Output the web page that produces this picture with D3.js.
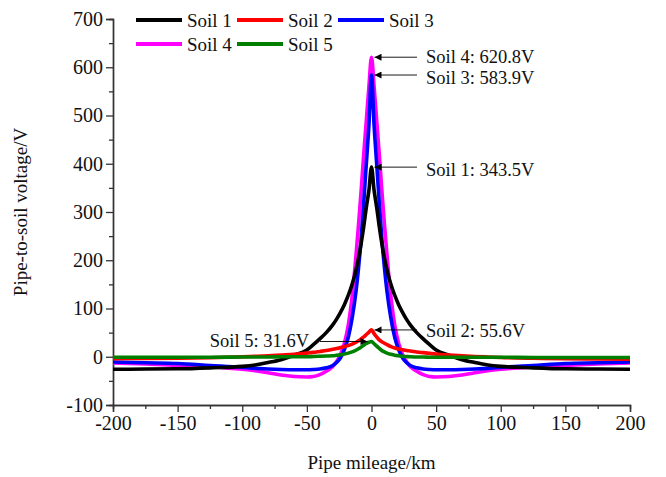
<!DOCTYPE html>
<html>
<head>
<meta charset="utf-8">
<script src="https://cdn.jsdelivr.net/npm/d3@7"></script>
<style>
  body { margin: 0; background: #fff; }
  svg text { font-family: "Liberation Serif", "Times New Roman", serif; fill: #111; }
</style>
</head>
<body>
<div id="main"></div>
<script>
// pipe mileage (km) sample points
var mileage = [-200, -175, -150, -125, -100, -90, -80, -70, -60, -50, -45, -40, -35, -30, -27, -24, -21, -18, -15, -12, -10, -8, -6, -4, -2, 0,
  2, 4, 6, 8, 10, 12, 15, 18, 21, 24, 27, 30, 35, 40, 45, 50, 60, 70, 80, 90, 100, 125, 150, 175, 200];

// pipe-to-soil voltage (V)
var soil1 = [-26, -25.5, -25, -23, -20, -17, -12, -6, 3, 14, 25, 37, 50, 66, 78, 92, 108, 127, 150, 180, 205, 235, 270, 310, 345, 393,
  345, 310, 270, 235, 205, 180, 150, 127, 108, 92, 78, 66, 50, 37, 25, 14, 3, -6, -12, -17, -20, -23, -25, -25.5, -26];
var soil2 = [-4, -3.5, -3, -2, 0, 1, 2, 3.5, 5, 7.5, 9, 11, 13, 15.5, 17, 19, 21, 23, 26, 30, 33, 37, 41, 46, 51, 55.6,
  48, 41, 35, 31, 28, 25, 21, 18, 16, 14.5, 13, 12, 10, 8.5, 7, 5.5, 3.5, 2, 0.5, -0.5, -1.5, -3, -4, -4.5, -5];
var soil3 = [-11, -12.5, -14, -18, -22, -24, -25.5, -26.5, -27, -27, -26.5, -25.5, -23, -18, -12, -2, 15, 40, 80, 135, 185, 245, 320, 400, 480, 583.9,
  480, 400, 320, 245, 185, 135, 80, 40, 15, -2, -12, -18, -23, -25.5, -26.5, -27, -27, -26.5, -25.5, -24, -22, -18, -14, -12.5, -11];
var soil4 = [-13, -15, -18, -21, -26, -29, -33, -38, -41, -42, -41, -37, -30, -20, -10, 5, 28, 65, 125, 210, 275, 345, 420, 490, 560, 620.8,
  560, 490, 420, 345, 275, 210, 125, 65, 28, 5, -10, -20, -30, -37, -41, -42, -41, -38, -33, -29, -26, -21, -18, -15, -13];
var soil5 = [-1, -1, -1, -1, -0.5, -0.5, -0.5, 0, 0, 0, 0.5, 1, 1.5, 2, 3, 4, 5.5, 7.5, 10, 13.5, 16.5, 20, 24, 27.5, 30, 31.6,
  27, 22, 17.5, 13, 10, 7.5, 5, 3, 2, 1, 0.5, 0, -0.5, -0.5, -1, -1, -1, -1, -1, -1, -1, -1.5, -1.5, -1.5, -1.5];

var seriesNames = ["Soil 1", "Soil 2", "Soil 3", "Soil 4", "Soil 5"];
var seriesColors = ["#000000", "#ff0000", "#0000ff", "#ff00ff", "#007f00"];
var seriesValues = [soil1, soil2, soil3, soil4, soil5];
var peakLabels = ["Soil 1: 343.5V", "Soil 2: 55.6V", "Soil 3: 583.9V", "Soil 4: 620.8V", "Soil 5: 31.6V"];

var xTicks = [-200, -150, -100, -50, 0, 50, 100, 150, 200];
var yTicks = [-100, 0, 100, 200, 300, 400, 500, 600, 700];

var margin = { top: 19, right: 36, bottom: 72, left: 113 },
  width = 666 - margin.left - margin.right,
  height = 477 - margin.top - margin.bottom;

var svg = d3.select("#main").append("svg")
  .attr("width", 666)
  .attr("height", 477);

var defs = svg.append("defs");
defs.append("marker")
  .attr("id", "head")
  .attr("viewBox", "0 0 10 10")
  .attr("refX", 10).attr("refY", 5)
  .attr("markerWidth", 10).attr("markerHeight", 7)
  .attr("markerUnits", "userSpaceOnUse")
  .attr("orient", "auto")
  .append("path")
  .attr("d", "M0,0L10,5L0,10Z")
  .attr("fill", "#000");

var g = svg.append("g")
  .attr("transform", "translate(" + margin.left + "," + margin.top + ")");

var x = d3.scaleLinear().domain([-200, 200]).range([0, width]);
var y = d3.scaleLinear().domain([-100, 700]).range([height, 0]);

// plain hyphen for negatives, like the original figure
var fmt = function (d) { return String(d); };

// axes: major ticks labelled, minor ticks in between
var xAxis = g.append("g")
  .attr("transform", "translate(0," + height + ")")
  .call(d3.axisBottom(x).tickValues(d3.range(-175, 200, 50)).tickSize(4).tickFormat(""));
xAxis.call(function (s) {
  s.append("g").call(d3.axisBottom(x).tickValues(xTicks).tickSize(7).tickPadding(4).tickFormat(fmt));
});

var yAxis = g.append("g")
  .call(d3.axisLeft(y).tickValues(d3.range(-50, 700, 100)).tickSize(4).tickFormat(""));
yAxis.call(function (s) {
  s.append("g").call(d3.axisLeft(y).tickValues(yTicks).tickSize(7).tickPadding(3).tickFormat(fmt));
});

g.selectAll(".domain").attr("stroke", "#333").attr("stroke-width", 1.4);
g.selectAll(".tick line").attr("stroke", "#333").attr("stroke-width", 1.3);
g.selectAll(".tick text")
  .style("font-family", "Liberation Serif, serif")
  .style("font-size", "20px")
  .attr("fill", "#111");

// curves
var line = d3.line()
  .x(function (d) { return x(d[0]); })
  .y(function (d) { return y(d[1]); })
  .curve(d3.curveMonotoneX);

var drawOrder = [3, 2, 0, 1, 4];
drawOrder.forEach(function (k) {
  g.append("path")
    .datum(mileage.map(function (m, i) { return [m, seriesValues[k][i]]; }))
    .attr("fill", "none")
    .attr("stroke", seriesColors[k])
    .attr("stroke-width", 3.6)
    .attr("stroke-linejoin", "round")
    .attr("d", line);
});

// peak annotations with arrows
function peakOf(k) {
  var v = seriesValues[k], i = d3.maxIndex(v);
  return [mileage[i], v[i]];
}
var textShift = { 3: -1, 2: 3, 0: 2, 1: 1 };
[3, 2, 0, 1].forEach(function (k) {
  var p = peakOf(k);
  var py = y(p[1]);
  g.append("line")
    .attr("x1", 304).attr("y1", py)
    .attr("x2", x(p[0]) + 3).attr("y2", py)
    .attr("stroke", "#000").attr("stroke-width", 0.9)
    .attr("marker-end", "url(#head)");
  g.append("text")
    .attr("x", 313).attr("y", py + textShift[k])
    .attr("dy", "0.35em")
    .style("font-size", "18.5px")
    .text(peakLabels[k]);
});
(function () {
  var p = peakOf(4), py = y(p[1]);
  g.append("line")
    .attr("x1", 207).attr("y1", py)
    .attr("x2", x(p[0]) - 4).attr("y2", py)
    .attr("stroke", "#000").attr("stroke-width", 0.9)
    .attr("marker-end", "url(#head)");
  g.append("text")
    .attr("x", 196).attr("y", py - 1)
    .attr("dy", "0.35em")
    .attr("text-anchor", "end")
    .style("font-size", "18.5px")
    .text(peakLabels[4]);
})();

// legend, three per row
var legend = svg.append("g");
seriesNames.forEach(function (name, i) {
  var col = i % 3, row = Math.floor(i / 3);
  var lg = legend.append("g")
    .attr("transform", "translate(" + (136 + col * 101) + "," + (20 + row * 24) + ")");
  lg.append("line")
    .attr("x1", 0).attr("x2", 46)
    .attr("stroke", seriesColors[i])
    .attr("stroke-width", 4);
  lg.append("text")
    .attr("x", 51).attr("dy", "0.35em")
    .style("font-size", "19px")
    .text(name);
});

// axis titles
svg.append("text")
  .attr("x", margin.left + width / 2).attr("y", 469)
  .attr("text-anchor", "middle")
  .style("font-size", "19px")
  .text("Pipe mileage/km");
svg.append("text")
  .attr("transform", "translate(27," + (margin.top + height / 2) + ") rotate(-90)")
  .attr("text-anchor", "middle")
  .style("font-size", "19px")
  .text("Pipe-to-soil voltage/V");
</script>
</body>
</html>
